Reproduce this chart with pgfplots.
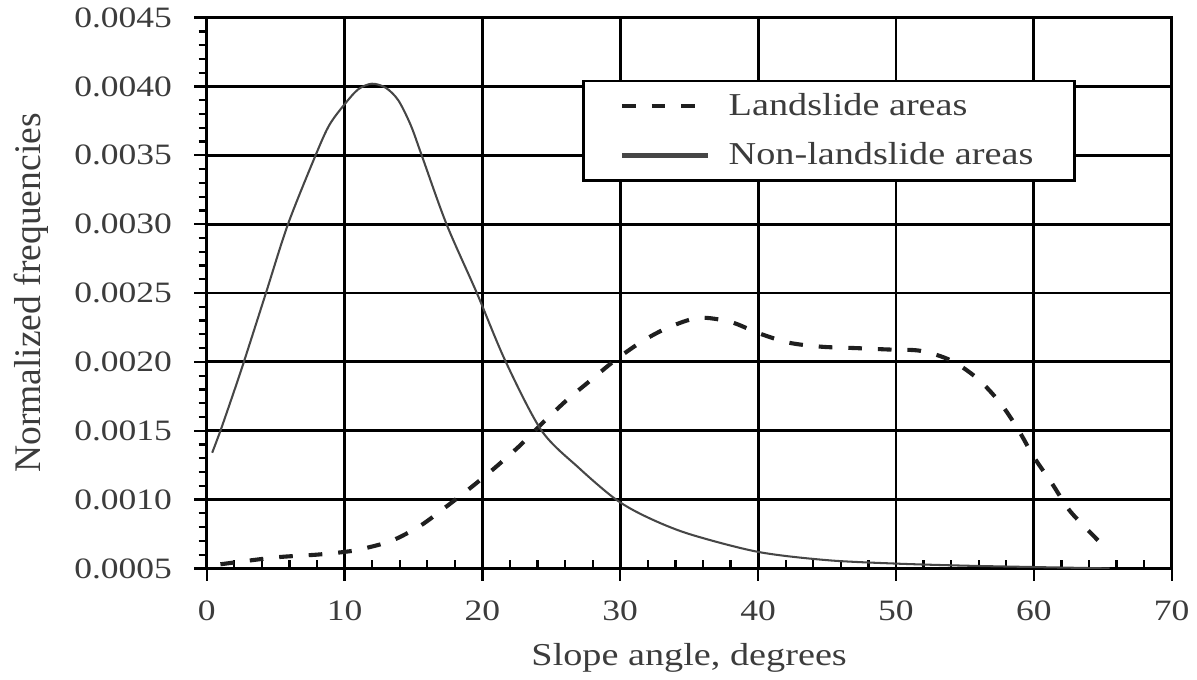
\documentclass[border=0pt]{standalone}
\usepackage{fontspec}
\setmainfont{Liberation Serif}[FakeStretch=1.2]
\newfontfamily\plainserif{Liberation Serif}
\usepackage{pgfplots}
\pgfplotsset{compat=1.18}
\definecolor{curvegray}{RGB}{70,70,70}
\definecolor{labelgray}{RGB}{60,60,60}

\begin{document}
\begin{tikzpicture}
  \begin{axis}[
      scale only axis,
      width=424pt, height=242pt,
      xmin=0, xmax=70, ymin=0.0005, ymax=0.0045,
      xtick={0,10,...,70},
      ytick={0.0005,0.0010,...,0.0045},
      minor x tick num=4, minor y tick num=4,
      tick pos=left, tick align=outside,
      major tick length=5.5pt, minor tick length=3.5pt,
      minor x tick style={yshift=3.5pt},
      scaled y ticks=false,
      yticklabel style={/pgf/number format/.cd, fixed, fixed zerofill, precision=4, /tikz/.cd},
      /pgf/number format/assume math mode=true,
      tick label style={font=\fontsize{13}{15}\selectfont, text=labelgray},
      xticklabel style={yshift=-5pt},
      yticklabel style={xshift=-6.2pt},
      xlabel={Slope angle, degrees},
      ylabel={Normalized frequencies},
      xlabel style={font=\fontsize{14}{16}\selectfont, text=labelgray,
        at={(axis description cs:0.5,0)}, anchor=north, inner sep=3.3pt, yshift=-29.4pt},
      ylabel style={font=\plainserif\fontsize{16.5}{18}\selectfont, text=labelgray,
        at={(axis description cs:0,0.5)}, anchor=north, inner sep=6pt, yshift=91pt},
      grid=major, grid style={black, line width=1.25pt},
      axis line style={black, line width=1.25pt},
      every tick/.style={black, line width=1pt},
      legend style={at={(rel axis cs:0.389,0.8875)}, anchor=north west,
        draw=black, line width=1.25pt, fill=white,
        inner xsep=16pt, inner ysep=3.3pt, row sep=6.6pt,
        font=\fontsize{14}{16}\selectfont, text=labelgray,
        /tikz/every odd column/.append style={column sep=6pt}},
      legend cell align=left,
      legend image code/.code={\draw[#1, line width=1.8pt] (0pt,0pt) -- (38pt,0pt);},
  ]
    % Landslide areas
    \addplot[black!88, line width=1.8pt, dash pattern=on 6pt off 7pt, smooth, tension=0.5] coordinates {
      (1.0,0.00053)(5,0.00058)(8,0.00060)(10,0.00062)(11.2,0.00064)(13.4,0.00070)
      (15.5,0.00081)(17.4,0.00095)(19.2,0.00109)(20.9,0.00123)(22.7,0.00139)
      (24.3,0.00155)(26.1,0.00172)(27.9,0.00187)(29.6,0.00201)(31.6,0.00215)
      (33.5,0.00225)(35.7,0.00232)(38,0.00229)(40,0.00221)(42.2,0.00214)
      (44.6,0.00211)(47.1,0.00210)(49.4,0.00209)(51.8,0.00208)(54,0.00201)
      (55.9,0.00188)(57.5,0.00171)(58.8,0.00152)(60,0.00131)(61.3,0.00112)
      (62.6,0.00092)(64.3,0.00074)(64.8,0.00069)
    };
    \addlegendentry{Landslide areas}
    % Non-landslide areas
    \addplot[curvegray, line width=0.9pt, smooth, tension=0.5] coordinates {
      (0.4,0.00134)(1,0.00150)(2,0.00179)(2.7,0.00200)(4.3,0.00250)(5.9,0.00300)
      (7.9,0.00350)(8.9,0.00372)(10,0.00387)(11,0.00398)(12,0.00402)(13,0.00399)
      (13.9,0.00390)(14.8,0.00372)(15.6,0.00350)(17.4,0.00300)(19.6,0.00250)
      (21.7,0.00200)(24.3,0.00150)(27,0.00123)(29.7,0.00100)(32,0.00087)
      (35,0.00075)(40,0.00062)(45,0.00056)(50,0.000535)(55,0.00052)
      (60,0.00051)(65.5,0.00050)
    };
    \addlegendentry{Non-landslide areas}
  \end{axis}
\end{tikzpicture}
\end{document}
